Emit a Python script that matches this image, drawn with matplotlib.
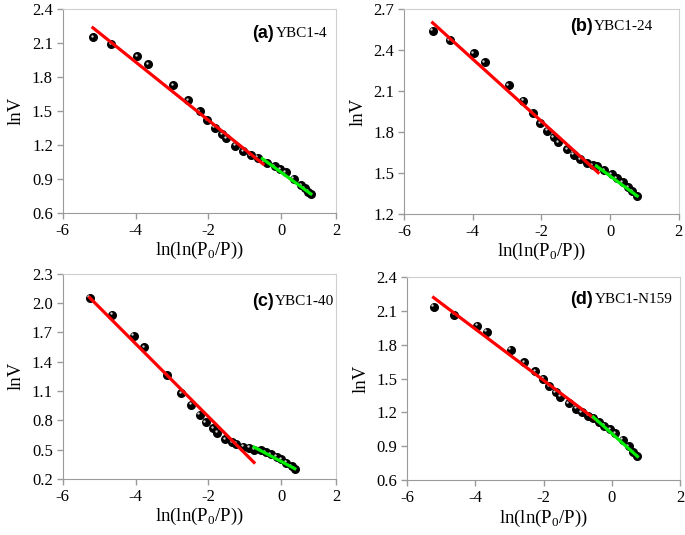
import numpy as np
import matplotlib
matplotlib.use("Agg")
import matplotlib.pyplot as plt
from matplotlib.ticker import FormatStrFormatter
from matplotlib import transforms

plt.rcParams["font.family"] = "Liberation Serif"
plt.rcParams["mathtext.fontset"] = "custom"
plt.rcParams["mathtext.rm"] = "Liberation Serif"
plt.rcParams["axes.unicode_minus"] = False

# (a) YBC1-4
xa = [-5.17, -4.67, -3.95, -3.65, -2.96, -2.55, -2.24, -2.03, -1.83, -1.63, -1.51, -1.26,
      -1.05, -0.84, -0.65, -0.38, -0.18, -0.03, 0.12, 0.34, 0.54, 0.64, 0.74, 0.81]
ya = [2.153, 2.089, 1.983, 1.912, 1.727, 1.597, 1.50, 1.42, 1.353, 1.295, 1.259, 1.194,
      1.147, 1.112, 1.088, 1.044, 1.015, 0.986, 0.962, 0.903, 0.847, 0.821, 0.788, 0.765]
fit_red_a = ([-5.17, -0.50], [2.235, 1.032])
fit_green_a = ([-0.52, 0.81], [1.079, 0.768])

# (b) YBC1-24
xb = [-5.17, -4.67, -3.97, -3.65, -2.96, -2.54, -2.26, -2.03, -1.84, -1.65, -1.52, -1.25,
      -1.06, -0.87, -0.68, -0.51, -0.38, -0.18, 0.04, 0.19, 0.36, 0.52, 0.65, 0.77]
yb = [2.542, 2.471, 2.378, 2.310, 2.144, 2.030, 1.942, 1.866, 1.810, 1.764, 1.727, 1.674,
      1.635, 1.600, 1.576, 1.559, 1.551, 1.522, 1.491, 1.464, 1.434, 1.396, 1.367, 1.332]
fit_red_b = ([-5.17, -0.35], [2.60, 1.503])
fit_green_b = ([-0.40, 0.79], [1.551, 1.332])

# (c) YBC1-40
xc = [-5.26, -4.64, -4.05, -3.76, -3.13, -2.75, -2.47, -2.24, -2.08, -1.87, -1.76, -1.54,
      -1.34, -1.24, -1.04, -0.89, -0.75, -0.57, -0.43, -0.29, -0.13, 0.0, 0.14, 0.28, 0.37]
yc = [2.057, 1.881, 1.667, 1.548, 1.264, 1.077, 0.958, 0.857, 0.782, 0.718, 0.673, 0.609,
      0.576, 0.559, 0.531, 0.518, 0.500, 0.494, 0.474, 0.453, 0.426, 0.399, 0.365, 0.331, 0.304]
fit_red_c = ([-5.26, -0.75], [2.057, 0.368])
fit_green_c = ([-0.75, 0.37], [0.525, 0.304])

# (d) YBC1-N159
xd = [-5.22, -4.62, -3.94, -3.66, -2.96, -2.56, -2.25, -2.01, -1.83, -1.64, -1.51, -1.26,
      -1.05, -0.88, -0.70, -0.56, -0.39, -0.23, -0.05, 0.10, 0.32, 0.49, 0.63, 0.75]
yd = [2.133, 2.062, 1.968, 1.912, 1.753, 1.645, 1.565, 1.497, 1.433, 1.380, 1.341, 1.283,
      1.235, 1.200, 1.171, 1.153, 1.115, 1.085, 1.053, 1.018, 0.959, 0.900, 0.847, 0.812]
fit_red_d = ([-5.22, -0.49], [2.215, 1.141])
fit_green_d = ([-0.54, 0.75], [1.159, 0.812])

panels = [
    ("(a)", "YBC1-4", xa, ya, fit_red_a, fit_green_a, (0.6, 2.4), 0.3, 1.5,
     [0.0915, 0.602, 0.399, 0.381], (0.774, 0.88)),
    ("(b)", "YBC1-24", xb, yb, fit_red_b, fit_green_b, (1.2, 2.7), 0.3, 2.0,
     [0.590, 0.600, 0.401, 0.383], (0.687, 0.915)),
    ("(c)", "YBC1-40", xc, yc, fit_red_c, fit_green_c, (0.2, 2.3), 0.3, 1.5,
     [0.0915, 0.105, 0.399, 0.383], (0.773, 0.865)),
    ("(d)", "YBC1-N159", xd, yd, fit_red_d, fit_green_d, (0.6, 2.4), 0.3, 2.0,
     [0.594, 0.102, 0.399, 0.381], (0.682, 0.889)),
]

fig = plt.figure(figsize=(6.85, 5.35), dpi=100)

for tag, name, x, y, red, green, ylim, ystep, xmax, rect, txtpos in panels:
    ax = fig.add_axes(rect)
    ax.scatter(x, y, s=30, color="black", zorder=3)
    # small highlight to mimic the shaded spheres
    hl = transforms.offset_copy(ax.transData, fig=fig, x=-1.0, y=1.0, units="points")
    ax.scatter(x, y, s=3, color="#d0d0d0", zorder=4, transform=hl, linewidths=0)
    ax.plot(red[0], red[1], color="#ff0000", lw=2.3, zorder=5)
    ax.plot(green[0], green[1], color="#00ee00", lw=2.3, zorder=5)

    ax.set_xlim(-6, xmax)
    ax.set_ylim(*ylim)
    ax.set_xticks([-6, -4, -2, 0, xmax])
    ax.set_xticklabels(["-6", "-4", "-2", "0", "2"])
    ax.set_yticks(np.arange(ylim[0], ylim[1] + 0.01, ystep))
    ax.yaxis.set_major_formatter(FormatStrFormatter("%.1f"))

    for side in ["left", "bottom"]:
        ax.spines[side].set_color("#9a9a9a")
    for side in ["top", "right"]:
        ax.spines[side].set_color("#cfcfcf")
    ax.tick_params(direction="out", length=4, width=1, color="#9a9a9a",
                   labelsize=12, pad=3)

    ax.set_xlabel("ln(ln(P$_{\\mathrm{0}}$/P))", fontsize=13.5, labelpad=1)
    ax.set_ylabel("lnV", fontsize=13.5, labelpad=5)

    ax.text(txtpos[0], txtpos[1], tag, transform=ax.transAxes, ha="right", va="center",
            fontsize=13, fontweight="bold", family="Liberation Sans")
    ax.text(txtpos[0] + 0.005, txtpos[1], name, transform=ax.transAxes, ha="left",
            va="center", fontsize=11)

fig.savefig("out.png", dpi=100)
